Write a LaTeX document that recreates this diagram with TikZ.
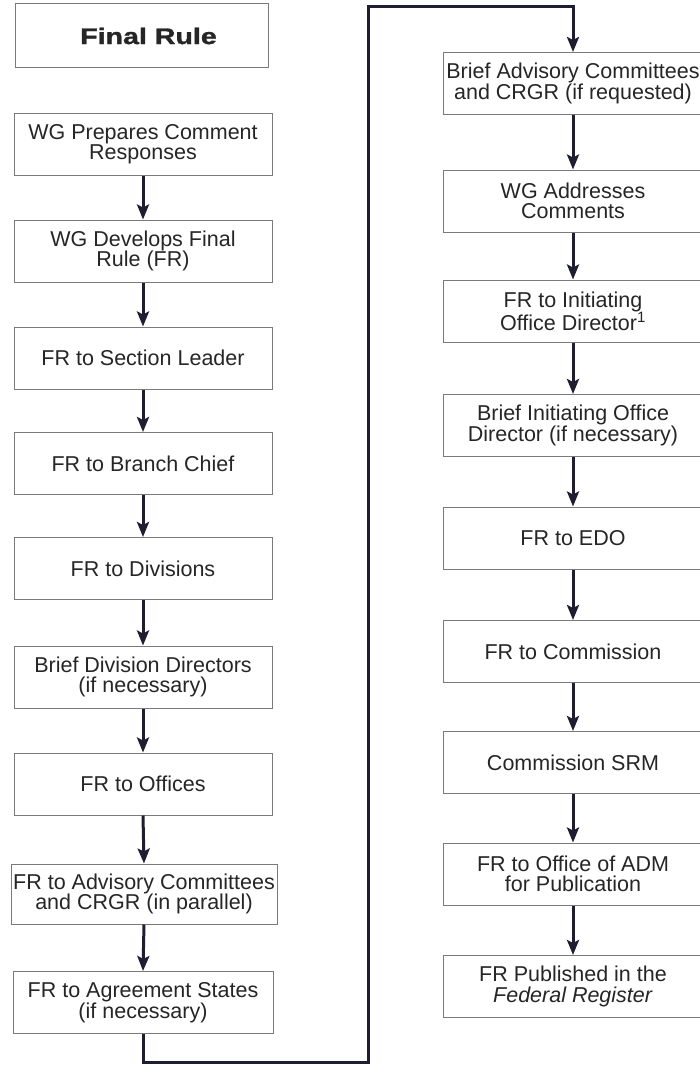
\documentclass[tikz,border=0pt]{standalone}
\usepackage{fontspec}
\setmainfont{Liberation Sans}
\newfontfamily\heavyfont[FakeBold=1.2]{Liberation Sans Bold}
\usetikzlibrary{arrows.meta}
\definecolor{ink}{HTML}{1E1E30}
\definecolor{txt}{HTML}{262626}
\definecolor{frame}{HTML}{7A7A7A}
\tikzset{
  box/.style={draw=frame, line width=1pt, fill=white, minimum width=258pt, minimum height=62pt,
    align=center, inner sep=1pt, text=txt, font=\fontsize{21.5}{20.5}\selectfont},
  flow/.style={draw=ink, line width=3pt, -{Stealth[length=15pt,width=12pt,inset=3pt]}}
}
\begin{document}
\begin{tikzpicture}[x=1pt,y=-1pt]
\useasboundingbox (0,0) rectangle (700,1065);
% left column
\node[box, minimum height=64pt, minimum width=253pt] (l1) at (141.5,36) {\hspace*{14pt}\scalebox{1.27}[1]{\fontsize{22.5}{22}\heavyfont Final Rule}};
\node[box] (l2) at (143,144) {WG Prepares Comment\\Responses};
\node[box] (l3) at (143,251) {WG Develops Final\\Rule (FR)};
\node[box] (l4) at (143,358) {FR to Section Leader};
\node[box] (l5) at (143,463.5) {FR to Branch Chief};
\node[box] (l6) at (143,568.5) {FR to Divisions};
\node[box] (l7) at (143,677) {Brief Division Directors\\(if necessary)};
\node[box] (l8) at (143,784) {FR to Offices};
\node[box, minimum width=266pt, minimum height=60pt] (l9) at (144,894) {FR to Advisory Committees\\and CRGR (in parallel)};
\node[box, minimum width=260pt] (l10) at (143,1002.5) {FR to Agreement States\\(if necessary)};
% right column
\node[box, minimum width=260pt] (r1) at (573,83.5) {Brief Advisory Committees\\and CRGR (if requested)};
\node[box, minimum width=260pt] (r2) at (573,201) {WG Addresses\\Comments};
\node[box, minimum width=260pt] (r3) at (573,311) {FR to Initiating\\Office Director\textsuperscript{1}};
\node[box, minimum width=260pt] (r4) at (573,425.5) {Brief Initiating Office\\Director (if necessary)};
\node[box, minimum width=260pt] (r5) at (573,538) {FR to EDO};
\node[box, minimum width=260pt] (r6) at (573,651.5) {FR to Commission};
\node[box, minimum width=260pt] (r7) at (573,762.5) {Commission SRM};
\node[box, minimum width=260pt] (r8) at (573,874) {FR to Office of ADM\\for Publication};
\node[box, minimum width=260pt] (r9) at (573,986.5) {FR Published in the\\\textit{Federal Register}};
% arrows
\foreach \a/\b in {l2/l3,l3/l4,l4/l5,l5/l6,l6/l7,l7/l8,l8/l9,l9/l10,r1/r2,r2/r3,r3/r4,r4/r5,r5/r6,r6/r7,r7/r8,r8/r9}
  \draw[flow] (\a.south) -- (\b.north);
% cross-over connector
\coordinate (c1) at (143,1062);
\coordinate (c2) at (368,1062);
\coordinate (c3) at (368,7);
\coordinate (c4) at (573,7);
\draw[flow, line join=miter] (l10.south) -- (c1) -- (c2) -- (c3) -- (c4) -- (r1.north);
\end{tikzpicture}
\end{document}
